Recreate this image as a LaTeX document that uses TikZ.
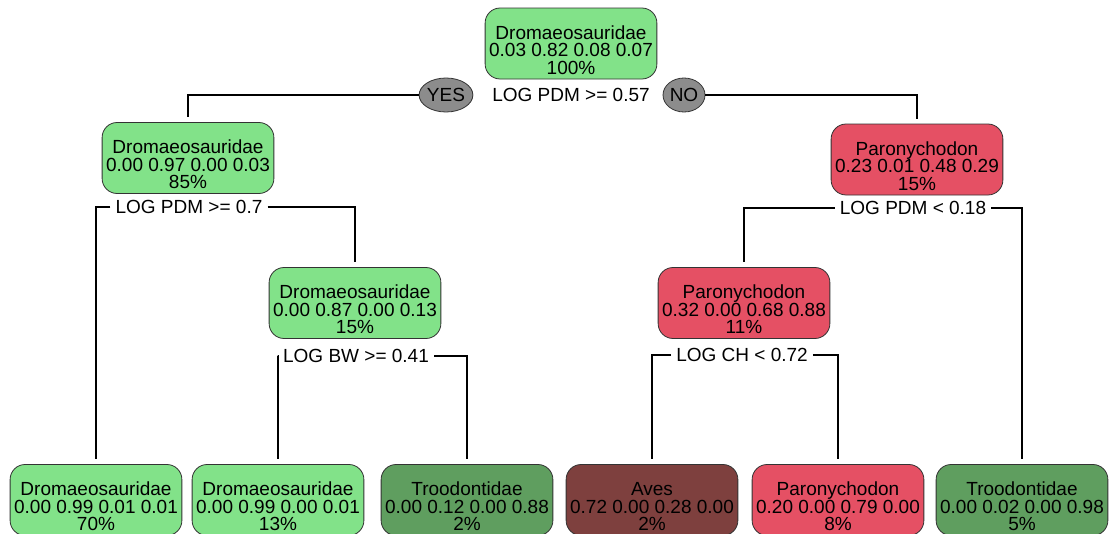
\documentclass[tikz,border=0pt]{standalone}
\usepackage{fontspec}
\usetikzlibrary{shapes.geometric}
\setmainfont{Liberation Sans}
\definecolor{lgreen}{RGB}{130,226,137}
\definecolor{dgreen}{RGB}{95,158,95}
\definecolor{pred}{RGB}{229,80,100}
\definecolor{aves}{RGB}{126,64,62}
\definecolor{ovalgray}{RGB}{140,140,140}
\newcommand\treefont{\fontsize{19pt}{17.5pt}\selectfont}
\newcommand\topstrut{\rule{0pt}{27pt}}
\begin{document}
\begin{tikzpicture}[x=1pt,y=-1pt,
  leaf/.style={draw=black!80, line width=0.8pt, rounded corners=15pt, minimum height=71pt, inner xsep=4pt, inner ysep=0pt, align=center, font=\treefont},
  cond/.style={inner xsep=5pt, inner ysep=2pt, font=\treefont},
  yn/.style={ellipse, draw=black!80, line width=0.8pt, fill=ovalgray, minimum height=34pt, inner sep=0pt, font=\treefont},
  conn/.style={line width=1.6pt, black, shorten >=5pt}
]
\useasboundingbox (0,0) rectangle (1114,533);
% internal nodes
\node[leaf, fill=lgreen] (root) at (571,43.5) {\topstrut Dromaeosauridae\\0.03 0.82 0.08 0.07\\100\%};
\node[cond] (c0) at (571,95) {LOG PDM >= 0.57};
\node[yn, minimum width=47pt] (yes) at (446,95) {YES};
\node[yn, minimum width=42pt] (no) at (684,95) {NO};
\node[leaf, fill=lgreen] (l1) at (188,158) {\topstrut Dromaeosauridae\\0.00 0.97 0.00 0.03\\85\%};
\node[leaf, fill=pred] (r1) at (917,159.5) {\topstrut Paronychodon\\0.23 0.01 0.48 0.29\\15\%};
\node[cond] (c1) at (189,207) {LOG PDM >= 0.7};
\node[cond] (c2) at (913,208) {LOG PDM < 0.18};
\node[leaf, fill=lgreen] (l2) at (355,303) {\topstrut Dromaeosauridae\\0.00 0.87 0.00 0.13\\15\%};
\node[leaf, fill=pred] (r2) at (744,303) {\topstrut Paronychodon\\0.32 0.00 0.68 0.88\\11\%};
\node[cond] (c3) at (356,356) {LOG BW >= 0.41};
\node[cond] (c4) at (742,355) {LOG CH < 0.72};
% leaves
\node[leaf, fill=lgreen] (la) at (96,500) {\topstrut Dromaeosauridae\\0.00 0.99 0.01 0.01\\70\%};
\node[leaf, fill=lgreen] (lb) at (278,500) {\topstrut Dromaeosauridae\\0.00 0.99 0.00 0.01\\13\%};
\node[leaf, fill=dgreen] (lc) at (467,500) {\topstrut Troodontidae\\0.00 0.12 0.00 0.88\\2\%};
\node[leaf, fill=aves] (ld) at (652,500) {\topstrut Aves\\0.72 0.00 0.28 0.00\\2\%};
\node[leaf, fill=pred] (le) at (838,500) {\topstrut Paronychodon\\0.20 0.00 0.79 0.00\\8\%};
\node[leaf, fill=dgreen] (lf) at (1022,500) {\topstrut Troodontidae\\0.00 0.02 0.00 0.98\\5\%};
% connectors
\draw[conn] (yes.west) -| (l1.north);
\draw[conn] (no.east) -| (r1.north);
\draw[conn] (c1.west) -| (la.north);
\draw[conn] (c1.east) -| (l2.north);
\draw[conn] (c3.west) -| (lb.north);
\draw[conn] (c3.east) -| (lc.north);
\draw[conn] (c2.west) -| (r2.north);
\draw[conn] (c2.east) -| (lf.north);
\draw[conn] (c4.west) -| (ld.north);
\draw[conn] (c4.east) -| (le.north);
\end{tikzpicture}
\end{document}
